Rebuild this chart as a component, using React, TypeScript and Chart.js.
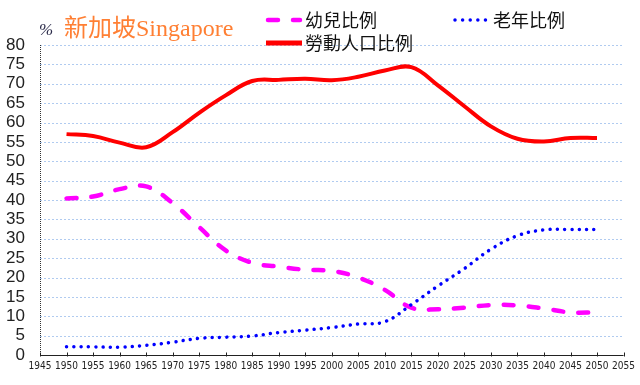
import React, { useEffect, useRef } from "react";
import { Chart, registerables } from "chart.js";

Chart.register(...registerables);

const years = [1950, 1955, 1960, 1965, 1970, 1975, 1980, 1985, 1990, 1995, 2000, 2005, 2010, 2015, 2020, 2025, 2030, 2035, 2040, 2045, 2050];
const youthRatio = [40.4, 40.9, 42.8, 43.5, 39.2, 33.0, 27.0, 23.8, 22.8, 22.0, 21.7, 20.0, 16.8, 12.2, 11.8, 12.2, 12.9, 12.8, 12.0, 11.0, 11.0];
const elderlyRatio = [2.1, 2.1, 2.0, 2.5, 3.3, 4.3, 4.6, 4.9, 5.8, 6.4, 7.1, 8.0, 8.6, 13.0, 17.8, 22.3, 27.3, 30.8, 32.3, 32.4, 32.4];
const laborRatio = [57.0, 56.5, 54.8, 53.6, 57.5, 62.5, 67.0, 70.7, 71.0, 71.3, 70.9, 71.8, 73.4, 74.3, 69.6, 64.2, 59.0, 55.8, 55.1, 56.0, 56.0];

const xMin = 1945;
const xMax = 2055;
const xStep = 5;
const yMin = 0;
const yMax = 80;
const yStep = 5;

const titleText = "新加坡Singapore";
const unitText = "%";
const legendLabels = ["幼兒比例", "老年比例", "勞動人口比例"];

const MAGENTA = "#ff00ff";
const BLUE = "#0000ff";
const RED = "#ff0000";

const toPoints = (vals: number[]) => vals.map((v, i) => ({ x: years[i], y: v }));

const overlayPlugin = {
  id: "overlay",
  beforeDatasetsDraw(chart: any) {
    const { ctx, chartArea: a, scales } = chart;
    const x = scales.x;
    const y = scales.y;
    ctx.save();
    ctx.strokeStyle = "rgba(150,185,235,0.75)";
    ctx.lineWidth = 1;
    ctx.setLineDash([2, 2]);
    for (let v = yMin + yStep; v <= yMax; v += yStep) {
      const py = Math.round(y.getPixelForValue(v)) + 0.5;
      ctx.beginPath();
      ctx.moveTo(a.left, py);
      ctx.lineTo(a.right, py);
      ctx.stroke();
    }
    ctx.strokeStyle = "#333";
    ctx.setLineDash([1, 1]);
    const ax = Math.round(a.left) + 0.5;
    ctx.beginPath();
    ctx.moveTo(ax, a.top);
    ctx.lineTo(ax, a.bottom);
    ctx.stroke();
    ctx.setLineDash([]);
    ctx.strokeStyle = "#222";
    const by = Math.round(a.bottom) + 0.5;
    ctx.beginPath();
    ctx.moveTo(a.left, by);
    ctx.lineTo(a.right, by);
    ctx.stroke();
    for (let v = xMin; v <= xMax; v += xStep) {
      const px = Math.round(x.getPixelForValue(v)) + 0.5;
      ctx.beginPath();
      ctx.moveTo(px, by - 3);
      ctx.lineTo(px, by + 1);
      ctx.stroke();
    }
    ctx.restore();
  },
  afterDraw(chart: any) {
    const { ctx } = chart;
    ctx.save();
    ctx.textBaseline = "alphabetic";
    ctx.textAlign = "left";
    ctx.fillStyle = "#2b2b4a";
    ctx.font = 'italic 17px "Liberation Serif", serif';
    ctx.fillText(unitText, 39, 35);
    ctx.fillStyle = "#ff7f33";
    ctx.font = '24px "Liberation Serif", "Noto Sans CJK TC", serif';
    ctx.fillText(titleText, 64, 36);

    ctx.textBaseline = "middle";
    ctx.fillStyle = "#111";
    ctx.font = '18px "Noto Sans CJK TC", sans-serif';

    ctx.strokeStyle = MAGENTA;
    ctx.lineWidth = 4.5;
    ctx.lineCap = "round";
    ctx.setLineDash([10, 15]);
    ctx.beginPath();
    ctx.moveTo(268, 20);
    ctx.lineTo(300, 20);
    ctx.stroke();
    ctx.fillText(legendLabels[0], 305, 20);

    ctx.strokeStyle = BLUE;
    ctx.lineWidth = 3.5;
    ctx.setLineDash([0.01, 7.6]);
    ctx.beginPath();
    ctx.moveTo(455, 20);
    ctx.lineTo(487, 20);
    ctx.stroke();
    ctx.fillText(legendLabels[1], 493, 20);

    ctx.strokeStyle = RED;
    ctx.lineWidth = 5;
    ctx.lineCap = "butt";
    ctx.setLineDash([]);
    ctx.beginPath();
    ctx.moveTo(266, 43);
    ctx.lineTo(302, 43);
    ctx.stroke();
    ctx.fillText(legendLabels[2], 305, 43);
    ctx.restore();
  },
};

export default function App() {
  const canvasRef = useRef<HTMLCanvasElement | null>(null);

  useEffect(() => {
    document.body.style.margin = "0";
    const canvas = canvasRef.current;
    if (!canvas) return;
    const chart = new Chart(canvas, {
      type: "line",
      data: {
        datasets: [
          {
            label: legendLabels[2],
            data: toPoints(laborRatio),
            borderColor: RED,
            borderWidth: 4,
            pointRadius: 0,
            tension: 0.4,
            fill: false,
            order: 3,
          },
          {
            label: legendLabels[0],
            data: toPoints(youthRatio),
            borderColor: MAGENTA,
            borderWidth: 4.5,
            borderDash: [10, 15],
            borderCapStyle: "round",
            pointRadius: 0,
            tension: 0.4,
            fill: false,
            order: 2,
          },
          {
            label: legendLabels[1],
            data: toPoints(elderlyRatio),
            borderColor: BLUE,
            borderWidth: 3.5,
            borderDash: [0.01, 7.3],
            borderCapStyle: "round",
            pointRadius: 0,
            tension: 0.4,
            fill: false,
            order: 1,
          },
        ],
      } as any,
      options: {
        responsive: false,
        animation: false,
        devicePixelRatio: 1,
        layout: { padding: { top: 45, right: 16, left: 0, bottom: 0 } },
        plugins: { legend: { display: false }, title: { display: false }, tooltip: { enabled: false } },
        scales: {
          x: {
            type: "linear",
            min: xMin,
            max: xMax,
            grid: { display: false, drawTicks: false },
            border: { display: false },
            afterFit: (s: any) => {
              s.height = 30;
            },
            ticks: {
              stepSize: xStep,
              autoSkip: false,
              maxRotation: 0,
              minRotation: 0,
              padding: 5,
              color: "#222",
              font: { family: '"Liberation Sans Narrow", "DejaVu Sans Condensed", "Liberation Sans"', size: 10 },
              callback: (v: any) => String(v),
            },
          },
          y: {
            type: "linear",
            min: yMin,
            max: yMax,
            grid: { display: false, drawTicks: false },
            border: { display: false },
            afterFit: (s: any) => {
              s.width = 40;
            },
            ticks: {
              stepSize: yStep,
              autoSkip: false,
              padding: 15,
              color: "#222",
              font: { family: '"Liberation Sans", sans-serif', size: 17 },
            },
          },
        },
      } as any,
      plugins: [overlayPlugin],
    });
    return () => chart.destroy();
  }, []);

  return <canvas ref={canvasRef} width={640} height={385} style={{ display: "block", width: 640, height: 385 }} />;
}
